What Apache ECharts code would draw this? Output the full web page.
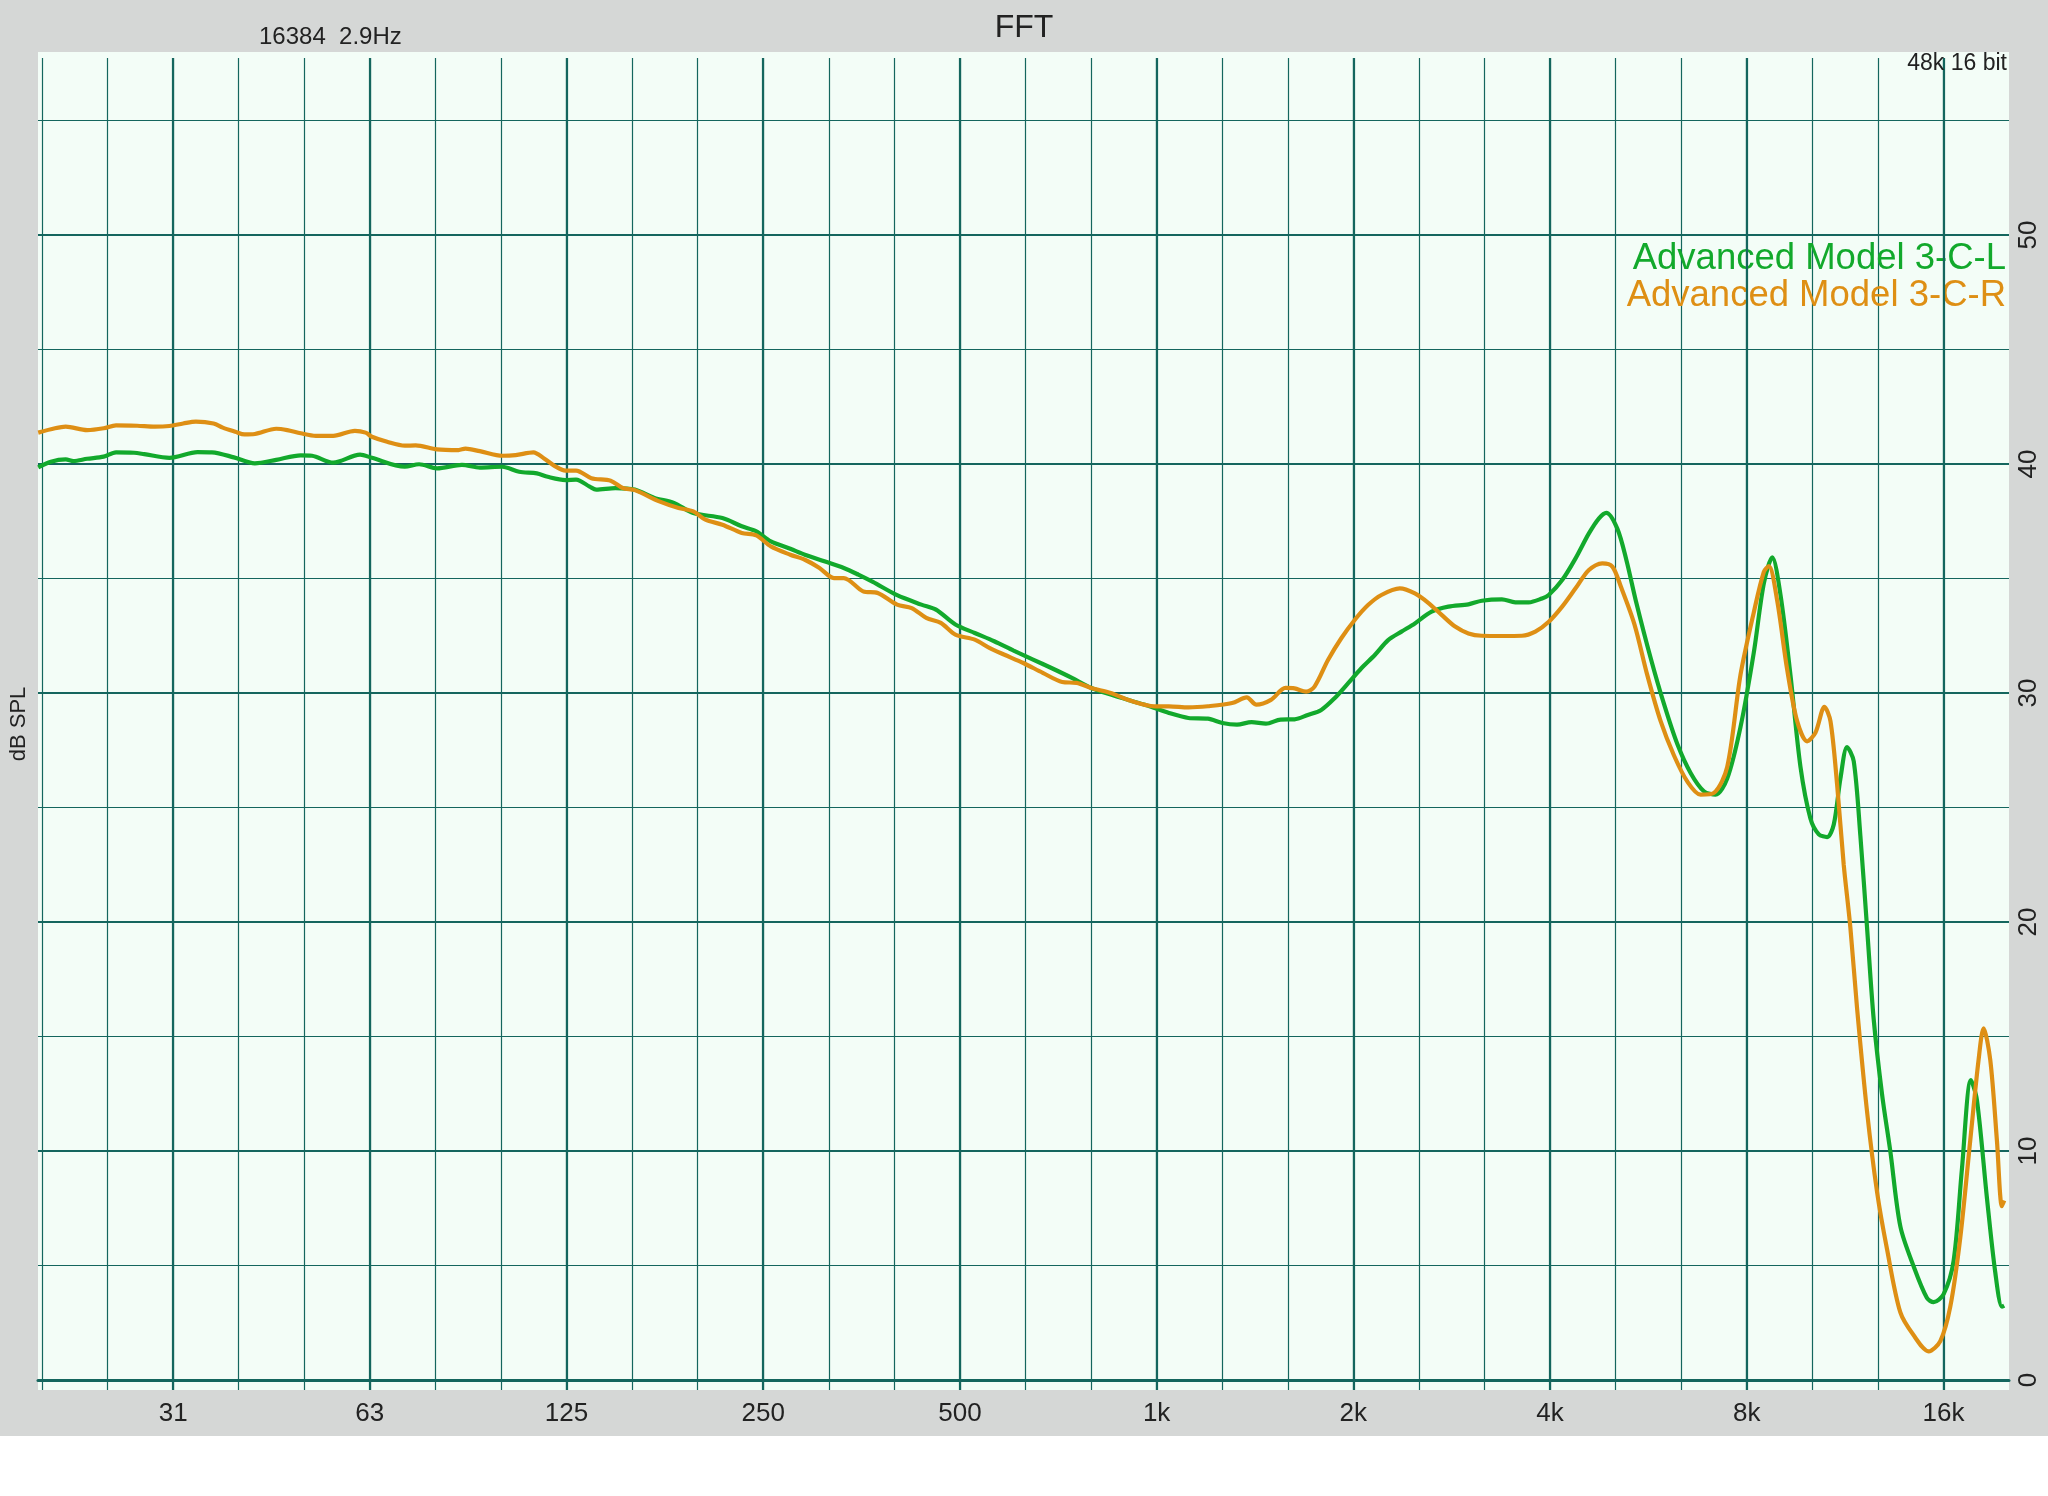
<!DOCTYPE html>
<html><head><meta charset="utf-8">
<script src="https://cdn.jsdelivr.net/npm/echarts@6/dist/echarts.min.js"></script>
<style>html,body{margin:0;padding:0;background:#fff;}#c{width:2048px;height:1496px;}</style>
</head><body><div id="c"></div>
<script>
// Frequencies (Hz) and levels (dB SPL)
const FREQ_L = [19.7, 20.6, 21.7, 22.3, 23.4, 24.8, 25.9, 27.6, 28.6, 31.25,
  34.5, 36.3, 39.2, 42.2, 45.5, 49.6, 51.6, 55.6, 61.1, 63.7,
  71.5, 75.2, 80.1, 87.4, 93.1, 100.8, 106.9, 113.8, 118.2, 125.8,
  130.6, 137.0, 140.2, 150.0, 160.6, 172.0, 184.2, 197.2, 218.5, 233.9,
  246.2, 259.1, 277.4, 292.0, 312.7, 334.8, 352.4, 370.9, 403.9, 439.9,
  463.1, 495.8, 530.7, 568.3, 608.5, 651.5, 697.5, 746.9, 799.6, 856.1,
  916.6, 981.3, 1050.7, 1125, 1204.6, 1268, 1334.6, 1404.8, 1478, 1556,
  1634, 1712, 1795, 1881, 1972, 2067, 2167, 2271, 2380, 2495,
  2646, 2807, 3012, 3157, 3388, 3552, 3723, 3902, 3995, 4188,
  4390, 4601, 4767, 4892, 5086, 5250, 5430, 5717, 5991, 6279,
  6579, 6894, 7183, 7483, 7842, 8218, 8512, 8766, 9025, 9348,
  9683, 10029, 10327, 10633, 10885, 11142, 11406, 11677, 11953, 12237,
  12527, 12899, 13283, 13757, 14417, 15107, 15466, 16019, 16592, 17084,
  17632, 18008, 18652, 19206, 19661, 19822];
const DB_L = [39.85, 40.10, 40.20, 40.13, 40.23, 40.32, 40.51, 40.49, 40.43, 40.27,
  40.52, 40.51, 40.29, 40.03, 40.18, 40.38, 40.36, 40.06, 40.41, 40.27,
  39.88, 39.99, 39.81, 39.96, 39.84, 39.88, 39.66, 39.59, 39.44, 39.30,
  39.32, 39.01, 38.88, 38.95, 38.88, 38.52, 38.30, 37.86, 37.64, 37.28,
  37.06, 36.62, 36.30, 36.04, 35.75, 35.46, 35.17, 34.85, 34.27, 33.86,
  33.64, 32.99, 32.62, 32.26, 31.85, 31.46, 31.07, 30.66, 30.22, 29.93,
  29.67, 29.42, 29.13, 28.91, 28.88, 28.69, 28.62, 28.73, 28.66, 28.84,
  28.85, 29.04, 29.26, 29.77, 30.42, 31.08, 31.66, 32.31, 32.68, 33.04,
  33.55, 33.77, 33.87, 34.03, 34.09, 33.96, 33.96, 34.13, 34.28, 34.93,
  35.88, 36.97, 37.63, 37.87, 37.17, 35.8, 34.0, 31.53, 29.52, 27.77,
  26.51, 25.71, 25.56, 26.26, 28.52, 31.78, 34.79, 35.92, 34.29, 30.78,
  26.77, 24.51, 23.83, 23.71, 24.26, 26.26, 27.64, 27.02, 23.76, 19.75,
  15.74, 12.48, 9.97, 6.71, 4.96, 3.58, 3.40, 3.75, 5.21, 9.22,
  13.10, 12.23, 7.96, 4.71, 3.20, 3.25];

const FREQ_R = [19.7, 20.9, 21.7, 23.4, 24.8, 25.9, 27.9, 29.7, 31.25, 32.8,
  34.3, 36.5, 37.7, 39.4, 40.7, 42.2, 45.5, 47.3, 49.6, 52.3,
  55.6, 60.0, 62.3, 63.7, 67.2, 71.5, 74.3, 80.1, 86.4, 88.5,
  93.1, 100.8, 105.6, 112.4, 116.7, 121.2, 125.8, 130.6, 137.8, 147.5,
  153.9, 160.6, 175.0, 187.3, 197.2, 205.8, 218.5, 233.9, 246.2, 259.1,
  277.4, 292.0, 307.4, 323.5, 334.8, 358.4, 377.3, 403.9, 425.2, 447.5,
  471.0, 495.8, 530.7, 558.7, 588.0, 629.6, 674.1, 721.8, 759.7, 799.6,
  856.1, 916.6, 998.3, 1050.7, 1125, 1204.6, 1312, 1381, 1429, 1504,
  1583, 1634, 1702, 1753, 1838, 1926, 2019, 2116, 2218, 2366,
  2495, 2615, 2741, 2874, 3012, 3157, 3388, 3636, 3811, 3995,
  4188, 4390, 4601, 4823, 4996, 5146, 5400, 5650, 5921, 6206,
  6502, 6814, 7141, 7483, 7842, 8218, 8512, 8664, 8920, 9239,
  9570, 9912, 10207, 10534, 10759, 11013, 11273, 11540, 11814, 12237,
  12675, 13128, 13757, 14417, 15196, 15832, 16398, 16984, 17591, 18114,
  18435, 18872, 19319, 19661, 19822];
const DB_R = [41.37, 41.56, 41.63, 41.48, 41.56, 41.69, 41.67, 41.63, 41.66, 41.77,
  41.85, 41.77, 41.59, 41.41, 41.29, 41.31, 41.54, 41.48, 41.34, 41.23,
  41.23, 41.45, 41.37, 41.19, 40.97, 40.80, 40.81, 40.64, 40.61, 40.67,
  40.56, 40.36, 40.39, 40.51, 40.24, 39.91, 39.71, 39.71, 39.38, 39.27,
  38.95, 38.86, 38.37, 38.08, 37.93, 37.57, 37.35, 36.99, 36.88, 36.40,
  36.04, 35.82, 35.46, 35.02, 35.02, 34.44, 34.37, 33.86, 33.71, 33.28,
  33.06, 32.55, 32.33, 31.97, 31.68, 31.31, 30.88, 30.48, 30.44, 30.22,
  30.00, 29.67, 29.42, 29.42, 29.37, 29.42, 29.56, 29.81, 29.49, 29.70,
  30.22, 30.20, 30.06, 30.28, 31.44, 32.39, 33.19, 33.84, 34.28, 34.57,
  34.35, 33.94, 33.41, 32.90, 32.60, 32.50, 32.49, 32.50, 32.68, 33.11,
  33.77, 34.57, 35.37, 35.66, 35.52, 34.66, 33.0, 30.78, 28.77, 27.27,
  26.14, 25.56, 25.64, 26.77, 30.8, 33.53, 35.29, 35.54, 34.04, 31.03,
  28.77, 27.89, 28.27, 29.40, 28.77, 26.01, 22.50, 19.75, 16.24, 11.72,
  8.21, 5.71, 2.95, 1.95, 1.25, 1.70, 3.20, 6.21, 10.47, 13.98,
  15.36, 13.98, 10.47, 7.59, 7.84];

const TICK_FREQS = [31.25, 62.5, 125, 250, 500, 1000, 2000, 4000, 8000, 16000];
const TICK_LABELS = ['31', '63', '125', '250', '500', '1k', '2k', '4k', '8k', '16k'];
const Y_LABELS = [0, 10, 20, 30, 40, 50];
const SERIES_NAMES = ['Advanced Model 3-C-L', 'Advanced Model 3-C-R'];

const FONT = '"Liberation Sans", Arial, Helvetica, sans-serif';
const GRID_COLOR = '#14665e';
const GREEN = '#12a92c';
const ORANGE = '#de8f14';
const TEXT = '#222222';

// x axis unit: third-octaves relative to 1 kHz
const toThird = f => 3 * Math.log2(f / 1000);
const X_MIN = -17, X_MAX = 13;

function pairs(fs, ds) {
  const n = Math.min(fs.length, ds.length);
  const out = [];
  for (let i = 0; i < n; i++) out.push([toThird(fs[i]), ds[i]]);
  return out;
}
function xLabel(v) {
  const f = 1000 * Math.pow(2, v / 3);
  for (let i = 0; i < TICK_FREQS.length; i++) {
    if (Math.abs(f / TICK_FREQS[i] - 1) < 0.02) return TICK_LABELS[i];
  }
  return '';
}

const chart = echarts.init(document.getElementById('c'), null, { renderer: 'canvas' });
chart.setOption({
  animation: false,
  backgroundColor: '#ffffff',
  graphic: [
    { type: 'rect', z: -100, silent: true, shape: { x: 0, y: 0, width: 2048, height: 1436 }, style: { fill: '#d5d7d6' } },
    { type: 'rect', z: -99, silent: true, shape: { x: 38, y: 52, width: 1971, height: 1338 }, style: { fill: '#f3fdf7' } }
  ],
  title: [
    { text: 'FFT', left: 'center', top: 12, padding: 0, textStyle: { fontSize: 32, fontWeight: 'normal', color: TEXT, fontFamily: FONT } },
    { text: '16384  2.9Hz', left: 259, top: 25, padding: 0, textStyle: { fontSize: 24, fontWeight: 'normal', color: TEXT, fontFamily: FONT } },
    { text: '48k 16 bit', right: 41, top: 52, padding: 0, textStyle: { fontSize: 23, fontWeight: 'normal', color: TEXT, fontFamily: FONT } }
  ],
  legend: {
    orient: 'vertical', right: 37, top: 240, itemGap: 0, itemWidth: 0, itemHeight: 0,
    align: 'right', padding: 0, selectedMode: false, icon: 'rect',
    textStyle: { fontSize: 36.5, fontFamily: FONT },
    data: [
      { name: SERIES_NAMES[0], textStyle: { color: GREEN } },
      { name: SERIES_NAMES[1], textStyle: { color: ORANGE } }
    ]
  },
  grid: [
    { left: 38, right: 39, top: 120.5, bottom: 116 },
    { left: 38, right: 39, top: 58, bottom: 106 }
  ],
  xAxis: [
    { gridIndex: 0, type: 'value', min: X_MIN, max: X_MAX,
      axisLine: { show: true, onZero: true, lineStyle: { color: GRID_COLOR, width: 3 } },
      axisTick: { show: false }, axisLabel: { show: false }, splitLine: { show: false } },
    { gridIndex: 1, type: 'value', min: X_MIN, max: X_MAX, interval: 1, position: 'bottom',
      axisLine: { show: false }, axisTick: { show: false },
      axisLabel: { show: true, margin: 11, fontSize: 26, color: TEXT, fontFamily: FONT, formatter: xLabel },
      splitLine: { show: true, showMaxLine: false, lineStyle: { color: GRID_COLOR, width: 1.2 } } }
  ],
  yAxis: [
    { gridIndex: 0, type: 'value', min: 0, max: 55, interval: 5, position: 'right',
      axisLine: { show: false }, axisTick: { show: false },
      axisLabel: { show: true, rotate: 90, margin: 7, fontSize: 26, color: TEXT, fontFamily: FONT,
        formatter: v => (Y_LABELS.indexOf(v) >= 0 ? String(v) : '') },
      splitLine: { show: true, lineStyle: { color: GRID_COLOR, width: 1.2 } } },
    { gridIndex: 0, type: 'value', min: 0, max: 55, interval: 10, position: 'right',
      axisLine: { show: false }, axisTick: { show: false }, axisLabel: { show: false },
      splitLine: { show: true, showMinLine: false, showMaxLine: false, lineStyle: { color: GRID_COLOR, width: 2.2 } } },
    { gridIndex: 1, type: 'value', min: 0, max: 1, position: 'left',
      name: 'dB SPL', nameLocation: 'middle', nameRotate: 90, nameGap: 12,
      nameTextStyle: { fontSize: 22, color: TEXT, fontFamily: FONT },
      axisLine: { show: false }, axisTick: { show: false }, axisLabel: { show: false }, splitLine: { show: false } }
  ],
  series: [
    { name: 'octave lines', type: 'line', xAxisIndex: 1, yAxisIndex: 2, data: [], z: 1,
      markLine: { silent: true, symbol: ['none', 'none'], label: { show: false },
        lineStyle: { color: GRID_COLOR, width: 2.2, type: 'solid' },
        data: TICK_FREQS.map(f => ({ xAxis: toThird(f) })) } },
    { name: SERIES_NAMES[0], type: 'line', xAxisIndex: 0, yAxisIndex: 0, data: pairs(FREQ_L, DB_L),
      showSymbol: false, smooth: 0.3, z: 5, lineStyle: { color: GREEN, width: 4.2 }, itemStyle: { color: GREEN } },
    { name: SERIES_NAMES[1], type: 'line', xAxisIndex: 0, yAxisIndex: 0, data: pairs(FREQ_R, DB_R),
      showSymbol: false, smooth: 0.3, z: 5, lineStyle: { color: ORANGE, width: 4.2 }, itemStyle: { color: ORANGE } }
  ]
});
</script></body></html>
